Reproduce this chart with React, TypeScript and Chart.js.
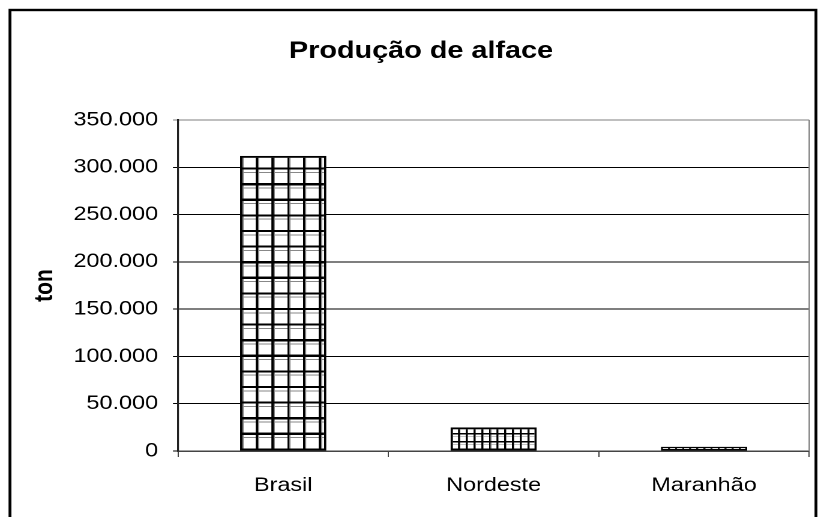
import { useEffect, useRef } from 'react';
import { Chart, registerables } from 'chart.js';

Chart.register(...registerables);

// ---- data ----
const categories: string[] = ['Brasil', 'Nordeste', 'Maranhão'];
const production: number[] = [312000, 25000, 4500];
const yTickValues: number[] = [0, 50000, 100000, 150000, 200000, 250000, 300000, 350000];
const chartTitle = 'Produção de alface';
const yAxisTitle = 'ton';

// ---- layout (canvas drawn narrower, then stretched horizontally like the reference) ----
const FULL_W = 821;
const H = 517;
const W = 684;
const SX = FULL_W / W;
const FONT = '"Liberation Sans", Arial, Helvetica, sans-serif';
const R = 10; // pattern resolution
const PAD_LEFT = 27.4;

function fmt(v: number): string {
  if (v === 0) return '0';
  return String(Math.round(v)).replace(/\B(?=(\d{3})+(?!\d))/g, '.');
}

type PatSpec = { cw: number; ch: number; vl: number; hl: number; gray: number; horiz: boolean };
const patternSpecs: PatSpec[] = [
  { cw: 13.1, ch: 15.6, vl: 1.8, hl: 2.2, gray: 1.0, horiz: true },
  { cw: 6.4, ch: 8, vl: 1.4, hl: 1.6, gray: 0.6, horiz: true },
  { cw: 5.9, ch: 40, vl: 1.5, hl: 0, gray: 0.3, horiz: false },
];

function makePattern(ctx: CanvasRenderingContext2D, s: PatSpec): CanvasPattern {
  const c = document.createElement('canvas');
  c.width = Math.round(s.cw * R);
  c.height = Math.round(s.ch * R);
  const g = c.getContext('2d')!;
  g.fillStyle = '#fff';
  g.fillRect(0, 0, c.width, c.height);
  g.fillStyle = '#888';
  g.fillRect(s.vl * R, 0, s.gray * R, c.height);
  if (s.horiz) g.fillRect(0, s.hl * R, c.width, s.gray * R);
  g.fillStyle = '#000';
  g.fillRect(0, 0, s.vl * R, c.height);
  if (s.horiz) g.fillRect(0, c.height - s.hl * R, c.width, s.hl * R);
  return ctx.createPattern(c, 'repeat')!;
}

export default function App() {
  const ref = useRef<HTMLCanvasElement | null>(null);

  useEffect(() => {
    const canvas = ref.current;
    if (!canvas) return;
    const ctx = canvas.getContext('2d')!;
    const patterns = patternSpecs.map((s) => makePattern(ctx, s));

    const framePlugin = {
      id: 'frame',
      beforeDraw(chart: any) {
        const c = chart.ctx;
        c.save();
        c.fillStyle = '#fff';
        c.fillRect(0, 0, chart.width, chart.height);
        c.strokeStyle = '#000';
        c.lineWidth = 2.4;
        c.strokeRect(8.3, 10, 671.5, 560);
        c.restore();
      },
      beforeDatasetsDraw(chart: any) {
        const a = chart.chartArea;
        const c = chart.ctx;
        c.save();
        c.strokeStyle = '#808080';
        c.lineWidth = 1.2;
        c.beginPath();
        c.moveTo(a.right, a.top);
        c.lineTo(a.right, a.bottom);
        c.stroke();
        c.restore();
        const meta = chart.getDatasetMeta(0);
        meta.data.forEach((bar: any, i: number) => {
          const p = bar.getProps(['x', 'width', 'base'], true);
          const left = p.x - p.width / 2;
          patterns[i].setTransform(new DOMMatrix().translate(left, p.base).scale(1 / R));
        });
      },
    };

    const chart = new Chart(canvas, {
      type: 'bar',
      data: {
        labels: categories,
        datasets: [
          {
            data: production,
            backgroundColor: patterns as any,
            borderColor: '#000',
            borderWidth: [2, 2, 1.5] as any,
            borderSkipped: false,
            categoryPercentage: 1,
            barPercentage: 0.41,
          },
        ],
      },
      plugins: [framePlugin],
      options: {
        responsive: false,
        animation: false,
        devicePixelRatio: 2,
        layout: { padding: { left: PAD_LEFT, right: W - 674.2, top: 0, bottom: 0 } },
        plugins: {
          legend: { display: false },
          tooltip: { enabled: false },
          title: {
            display: true,
            text: chartTitle,
            color: '#000',
            font: { family: FONT, size: 24, weight: 'bold' },
            padding: { top: 37, bottom: 120 - 37 - 28.8 },
          },
        },
        scales: {
          x: {
            grid: { drawOnChartArea: false, drawTicks: true, tickLength: 6, color: '#444', offset: true },
            border: { color: '#444', width: 1.5 },
            ticks: { color: '#000', font: { family: FONT, size: 19.5 }, padding: 17 },
            afterFit: (s: any) => {
              s.height = 66;
            },
          },
          y: {
            min: 0,
            max: 350000,
            afterBuildTicks: (s: any) => {
              s.ticks = yTickValues.map((v) => ({ value: v }));
            },
            ticks: {
              color: '#000',
              font: { family: FONT, size: 19.5 },
              padding: 12.4,
              callback: (v: any) => fmt(Number(v)),
            },
            grid: {
              color: (c: any) => (c.tick && c.tick.value === 350000 ? '#808080' : '#000'),
              lineWidth: 1,
              tickLength: 4.2,
            },
            border: { color: '#222', width: 1.6 },
            title: {
              display: true,
              text: yAxisTitle,
              color: '#000',
              font: { family: FONT, size: 21, weight: 'bold', lineHeight: 1.0 },
              padding: { top: 0, bottom: 0 },
            },
            afterFit: (s: any) => {
              s.width = 148.3 - PAD_LEFT;
            },
          },
        },
      } as any,
    });

    return () => chart.destroy();
  }, []);

  return (
    <div
      style={{
        position: 'fixed',
        left: 0,
        top: 0,
        width: FULL_W,
        height: H,
        overflow: 'hidden',
        background: '#fff',
      }}
    >
      <canvas
        ref={ref}
        width={W}
        height={H}
        style={{
          width: W,
          height: H,
          display: 'block',
          transform: `scaleX(${SX})`,
          transformOrigin: '0 0',
        }}
      />
    </div>
  );
}
